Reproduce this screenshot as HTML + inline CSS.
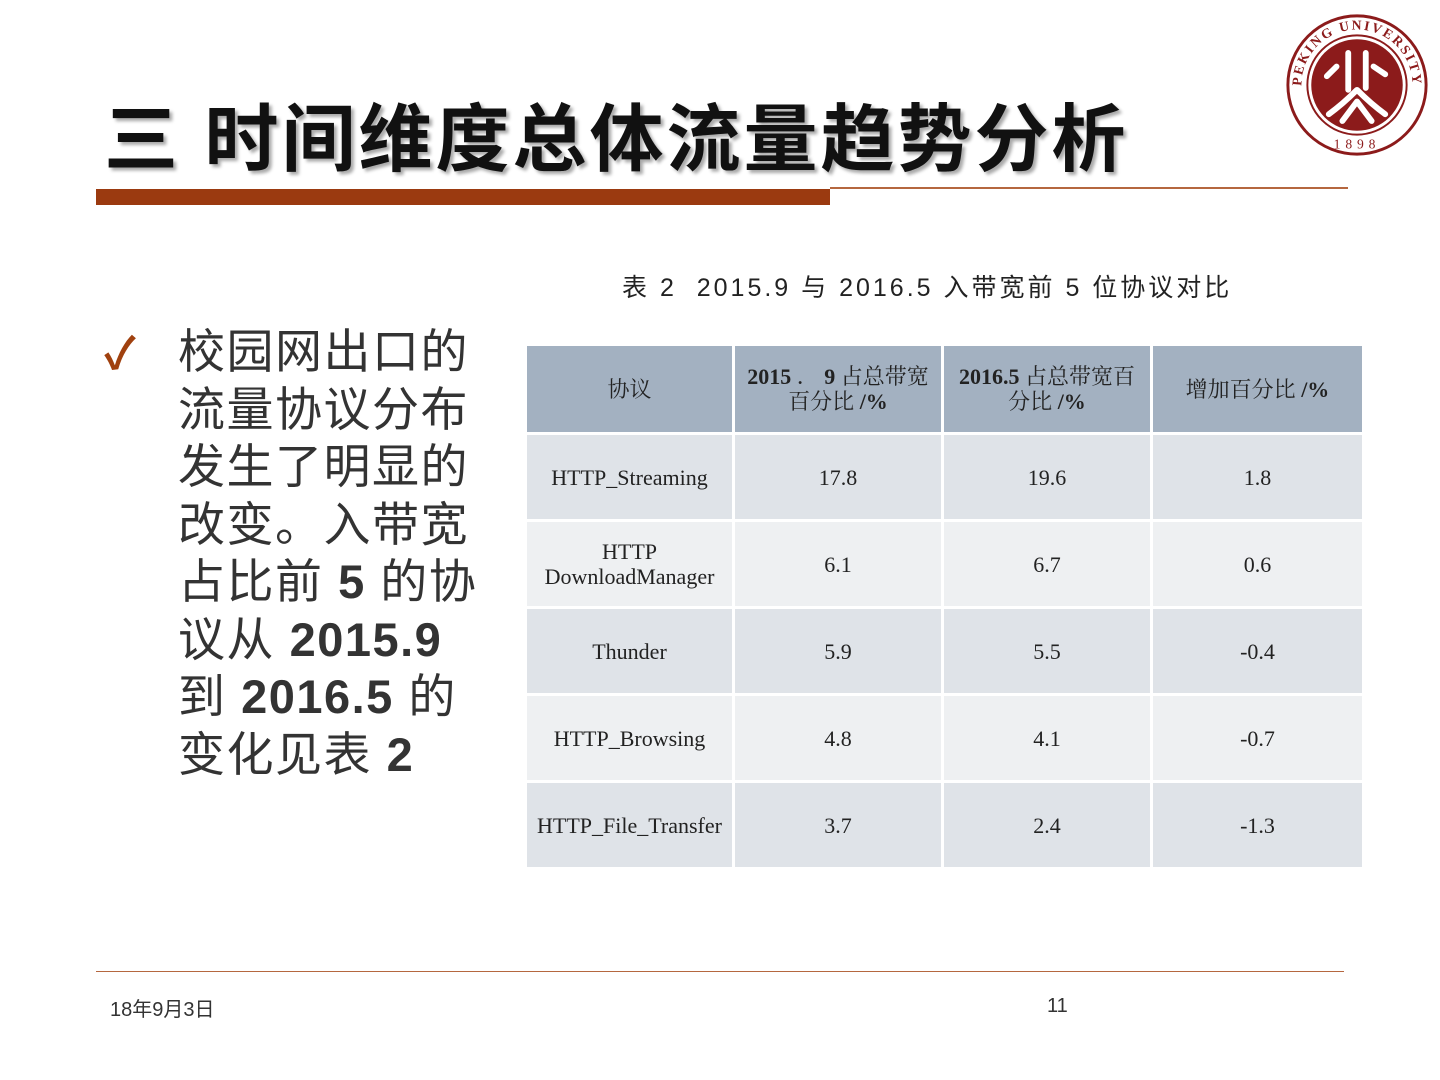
<!DOCTYPE html>
<html><head><meta charset="utf-8"><style>
body{margin:0;width:1440px;height:1080px;background:#fff;position:relative;overflow:hidden;font-family:"Liberation Sans","Noto Sans CJK SC",sans-serif;}
.abs{position:absolute;}
.title{left:104px;top:80px;font-size:74px;font-weight:bold;color:#111;white-space:nowrap;text-shadow:3px 3px 3px #aaa;letter-spacing:3px;}
table{position:absolute;left:527px;top:346px;border-collapse:separate;border-spacing:3px;margin:-3px;font-family:"Liberation Serif","Noto Serif CJK SC",serif;font-size:22px;color:#222;}
td{text-align:center;padding:0;line-height:25px;}
tr.h td{background:#a3b1c1;height:86px;letter-spacing:0;}
tr.a td{background:#dfe3e8;height:84px;}
tr.b td{background:#eef0f2;height:84px;}
.bul{left:178px;top:323px;font-size:47px;line-height:57.5px;color:#333;white-space:nowrap;letter-spacing:1.5px;}
</style></head><body>
<div class="abs title">三 时间维度总体流量趋势分析</div>
<div class="abs" style="left:96px;top:189px;width:734px;height:16px;background:#9b3a10"></div>
<div class="abs" style="left:830px;top:187px;width:518px;height:2px;background:#b5673f"></div>
<svg class="abs" style="left:1284px;top:12px" width="146" height="146" viewBox="0 0 150 150">
<defs><path id="arc" d="M18 75 A57 57 0 0 1 132 75"/></defs>
<circle cx="75" cy="75" r="71" fill="none" stroke="#8c1b1b" stroke-width="3"/>
<circle cx="75" cy="75" r="47" fill="#8c1b1b"/>
<circle cx="75" cy="75" r="51" fill="none" stroke="#8c1b1b" stroke-width="2"/>
<g stroke="#fff" stroke-width="6" fill="none" stroke-linecap="round">
<path d="M66 42 L66 80 M54 56 L44 66 M84 42 L84 78 M92 56 L104 64 M75 80 Q60 95 46 105 M75 80 Q90 95 104 105 M75 92 Q66 104 60 112 M75 92 Q84 104 90 112"/></g>
<text font-family="Liberation Serif" font-size="14" font-weight="bold" fill="#8c1b1b" letter-spacing="2"><textPath href="#arc" startOffset="50%" text-anchor="middle">PEKING UNIVERSITY</textPath></text>
<text x="75" y="140" text-anchor="middle" font-family="Liberation Serif" font-size="14" fill="#8c1b1b" letter-spacing="5">1898</text>
</svg>
<div class="abs" style="left:622px;top:268px;font-size:25px;color:#222;white-space:nowrap;letter-spacing:3px">表 2&nbsp; 2015.9 与 2016.5 入带宽前 5 位协议对比</div>
<div class="abs" style="left:104px;top:318px;font-size:44px;font-weight:bold;color:#a0410f">✓</div>
<div class="abs bul">校园网出口的<br>流量协议分布<br>发生了明显的<br>改变。入带宽<br>占比前 <b>5</b> 的协<br>议从 <b>2015.9</b><br>到 <b>2016.5</b> 的<br>变化见表 <b>2</b></div>
<table>
<tr class="h"><td style="width:205px">协议</td><td style="width:206px"><b>2015</b> ． <b>9</b> 占总带宽<br>百分比 <b>/%</b></td><td style="width:206px"><b>2016.5</b> 占总带宽百<br>分比 <b>/%</b></td><td style="width:209px">增加百分比 <b>/%</b></td></tr>
<tr class="a"><td>HTTP_Streaming</td><td>17.8</td><td>19.6</td><td>1.8</td></tr>
<tr class="b"><td>HTTP<br>DownloadManager</td><td>6.1</td><td>6.7</td><td>0.6</td></tr>
<tr class="a"><td>Thunder</td><td>5.9</td><td>5.5</td><td>-0.4</td></tr>
<tr class="b"><td>HTTP_Browsing</td><td>4.8</td><td>4.1</td><td>-0.7</td></tr>
<tr class="a"><td>HTTP_File_Transfer</td><td>3.7</td><td>2.4</td><td>-1.3</td></tr>
</table>
<div class="abs" style="left:96px;top:971px;width:1248px;height:1px;background:#b5673f"></div>
<div class="abs" style="left:110px;top:993px;font-size:20px;color:#333">18年9月3日</div>
<div class="abs" style="left:1047px;top:995px;font-size:20px;color:#333">11</div>
</body></html>
